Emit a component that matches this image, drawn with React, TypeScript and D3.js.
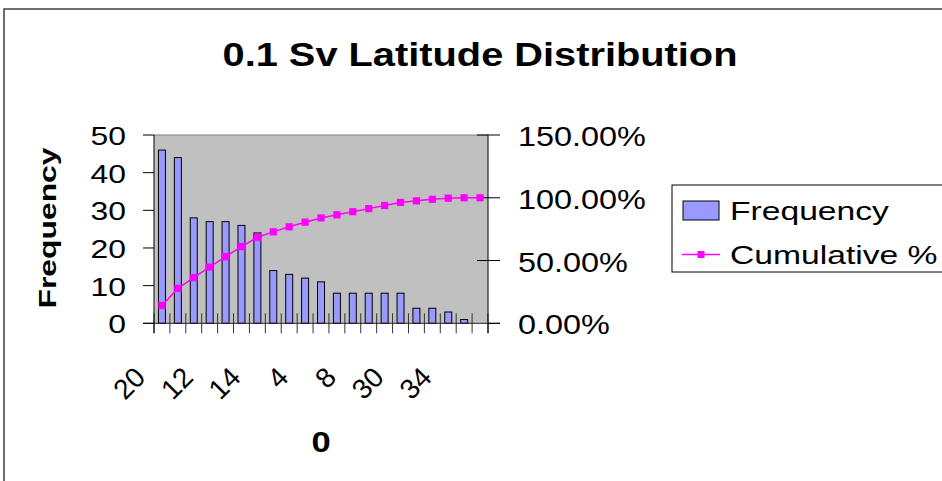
import React from "react";
import * as d3 from "d3";

const categories = ["20","18","16","12","10","22","14","24","6","4","26","28","8","2","32","30","0","36","34","38","More"];
const frequency = [46,44,28,27,27,26,24,14,13,12,11,8,8,8,8,8,4,4,3,1,0];
const cumulative = [14.2,27.78,36.42,44.75,53.09,61.11,68.52,72.84,76.85,80.56,83.95,86.42,88.89,91.36,93.83,96.3,97.53,98.77,99.69,100,100];
const leftTicks = [0,10,20,30,40,50];
const rightTicks = [0,50,100,150];
const labelEvery = 3;

const FONT = "'Liberation Sans', Arial, sans-serif";

function T(props: any) {
  const { x, y, sx = 1, rot = 0, anchor = "start", size, bold, children } = props;
  const tr = `translate(${x},${y}) rotate(${rot}) scale(${sx},1)`;
  return (
    <text
      transform={tr}
      textAnchor={anchor}
      fontSize={size}
      fontWeight={bold ? "bold" : "normal"}
      fontFamily={FONT}
      fill="#000"
    >
      {children}
    </text>
  );
}

export default function App() {
  const L = 154, R = 488, TOP = 135, BOT = 323.3;
  const x = d3.scaleBand<string>().domain(categories).range([L, R]).paddingInner(0).paddingOuter(0);
  const y = d3.scaleLinear().domain([0, 50]).range([BOT, TOP]);
  const y2 = d3.scaleLinear().domain([0, 150]).range([BOT, TOP]);
  const bw = 7;
  const cx = (c: string) => (x(c) as number) + x.bandwidth() / 2;
  const line = d3
    .line<number>()
    .x((_, i) => cx(categories[i]))
    .y((d) => y2(d));
  const tickXs = categories.map((c) => x(c) as number).concat([R]);

  return (
    <svg width={942} height={481} style={{ position: "absolute", left: 0, top: 0, background: "#fff" }}>
      {/* chart border */}
      <rect x={4} y={9} width={1000} height={600} fill="#fff" stroke="#404040" strokeWidth={1.5} />
      {/* title */}
      <T x={480} y={66} sx={1.17} size={34} bold anchor="middle">0.1 Sv Latitude Distribution</T>

      {/* plot area */}
      <rect x={L} y={TOP} width={R - L} height={BOT - TOP} fill="#C0C0C0" />
      <line x1={L} x2={R} y1={TOP} y2={TOP} stroke="#808080" strokeWidth={1} />

      {/* bars */}
      {frequency.map((v, i) =>
        v > 0 ? (
          <rect
            key={i}
            x={cx(categories[i]) - bw / 2}
            y={y(v)}
            width={bw}
            height={y(0) - y(v)}
            fill="#9999FF"
            stroke="#000"
            strokeWidth={1}
          />
        ) : null
      )}

      {/* x ticks crossing */}
      {tickXs.map((tx, i) => (
        <line key={i} x1={tx} x2={tx} y1={BOT - 10} y2={BOT + 10} stroke="#333" strokeWidth={1} />
      ))}
      {/* x axis */}
      <line x1={L - 11} x2={R + 12} y1={BOT} y2={BOT} stroke="#222" strokeWidth={1} />
      {/* left axis */}
      <line x1={L} x2={L} y1={TOP} y2={BOT + 10} stroke="#000" strokeWidth={1} />
      {leftTicks.map((t) => (
        <g key={t}>
          <line x1={L - 11} x2={L} y1={y(t)} y2={y(t)} stroke="#000" strokeWidth={1} />
          <T x={126} y={y(t) + 10} sx={1.25} size={25.5} anchor="end">{String(t)}</T>
        </g>
      ))}
      {/* right axis */}
      <line x1={R} x2={R} y1={TOP} y2={BOT + 10} stroke="#000" strokeWidth={1} />
      {rightTicks.map((t) => (
        <g key={t}>
          <line x1={t === 0 ? R : R - 11} x2={R + 12} y1={y2(t)} y2={y2(t)} stroke="#000" strokeWidth={1} />
          <T x={518} y={y2(t) + 11} sx={1.2} size={27}>{t.toFixed(2) + "%"}</T>
        </g>
      ))}

      {/* cumulative line */}
      <path d={line(cumulative) || ""} fill="none" stroke="#FF00FF" strokeWidth={1.5} />
      {cumulative.map((v, i) => (
        <rect key={i} x={cx(categories[i]) - 3.6} y={y2(v) - 3.6} width={7.2} height={7.2} fill="#FF00FF" />
      ))}

      {/* x tick labels */}
      {categories.map((c, i) =>
        i % labelEvery === 0 && i < categories.length - 1 ? (
          <T key={c} x={cx(c) - 15} y={379} rot={-45} size={28} anchor="end">{c}</T>
        ) : null
      )}

      {/* axis titles */}
      <T x={321} y={452} sx={1.15} size={30} bold anchor="middle">0</T>
      <text
        transform="translate(56,228) rotate(-90) scale(1.3,1)"
        textAnchor="middle"
        fontSize={24.5}
        fontWeight="bold"
        fontFamily={FONT}
      >
        Frequency
      </text>

      {/* legend */}
      <rect x={672} y={185} width={300} height={87} fill="#fff" stroke="#000" strokeWidth={1} />
      <rect x={683} y={201} width={36} height={19} fill="#9999FF" stroke="#000" strokeWidth={1} />
      <T x={730} y={220} sx={1.27} size={26.5}>Frequency</T>
      <line x1={682} x2={720} y1={254.5} y2={254.5} stroke="#FF00FF" strokeWidth={1.5} />
      <rect x={697.5} y={251} width={7} height={7} fill="#FF00FF" />
      <T x={730} y={264} sx={1.27} size={26.5}>Cumulative %</T>
    </svg>
  );
}
